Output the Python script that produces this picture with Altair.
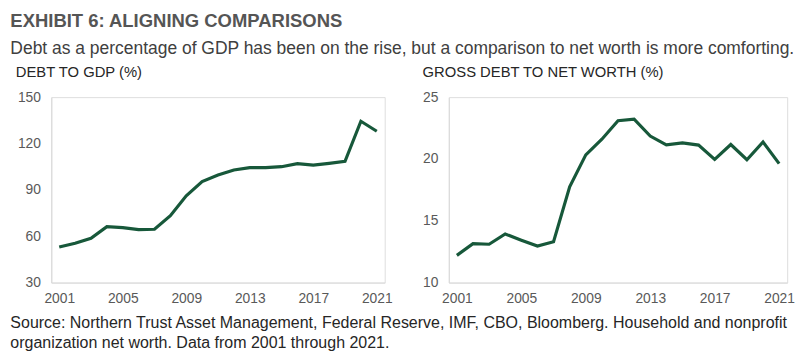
import altair as alt
import pandas as pd

years = list(range(2001, 2022))
debt_to_gdp = [53.0, 55.5, 58.7, 66.2, 65.6, 64.3, 64.5, 73.3, 86.1, 95.4, 99.6,
               102.9, 104.4, 104.4, 105.0, 107.0, 106.0, 107.1, 108.4, 134.4, 127.9]
debt_to_networth = [12.2, 13.15, 13.1, 13.93, 13.43, 12.96, 13.3, 17.74, 20.33, 21.6, 23.09,
                    23.22, 21.85, 21.14, 21.3, 21.12, 19.96, 21.17, 19.94, 21.38, 19.62]
x_ticks = [2001, 2005, 2009, 2013, 2017, 2021]
left_y_ticks = [30, 60, 90, 120, 150]
right_y_ticks = [10, 15, 20, 25]

title_text = "EXHIBIT 6: ALIGNING COMPARISONS"
subtitle_text = "Debt as a percentage of GDP has been on the rise, but a comparison to net worth is more comforting."
left_title = "DEBT TO GDP (%)"
right_title = "GROSS DEBT TO NET WORTH (%)"
footer_lines = [
    "Source: Northern Trust Asset Management, Federal Reserve, IMF, CBO, Bloomberg. Household and nonprofit",
    "organization net worth. Data from 2001 through 2021.",
]

df_left = pd.DataFrame({"year": years, "value": debt_to_gdp})
df_right = pd.DataFrame({"year": years, "value": debt_to_networth})

FONT = "Liberation Sans"
LINE_COLOR = "#17583a"
AXIS_COLOR = "#d9d9d9"
LABEL_COLOR = "#595959"


def panel(df, ttl, ydom, yticks, w, h, min_extent, title_dx):
    xax = alt.Axis(values=x_ticks, format="d", ticks=False, grid=False, domainColor=AXIS_COLOR,
                   labelColor=LABEL_COLOR, labelFontSize=14, labelFont=FONT, labelPadding=9,
                   title=None)
    yax = alt.Axis(values=yticks, ticks=False, grid=False, domainColor=AXIS_COLOR,
                   labelColor=LABEL_COLOR, labelFontSize=14, labelFont=FONT, labelPadding=11,
                   title=None, minExtent=min_extent)
    return alt.Chart(df).mark_line(color=LINE_COLOR, strokeWidth=3.2, strokeJoin="miter").encode(
        x=alt.X("year:Q", scale=alt.Scale(domain=[2000.5, 2021.5], nice=False, zero=False), axis=xax),
        y=alt.Y("value:Q", scale=alt.Scale(domain=ydom, nice=False, zero=False), axis=yax),
    ).properties(
        width=w, height=h,
        title=alt.TitleParams(ttl, anchor="start", frame="bounds", font=FONT, fontSize=15,
                              fontWeight="normal", color="#262626", offset=10, dx=title_dx),
    )


left = panel(df_left, left_title, [30, 150], left_y_ticks, 338, 188, 41, 5)
right = panel(df_right, right_title, [10, 25], right_y_ticks, 343, 188, 26, 0)

inner = alt.hconcat(left, right, spacing=28).properties(
    title=alt.TitleParams(footer_lines, orient="bottom", anchor="start", frame="bounds",
                          font=FONT, fontSize=16.2, fontWeight="normal", color="#262626",
                          lineHeight=19.5, offset=10)
)

chart = alt.vconcat(inner).properties(
    title=alt.TitleParams(title_text, subtitle=subtitle_text, anchor="start", frame="bounds",
                          font=FONT, fontSize=18.7, fontWeight="bold", color="#555555",
                          subtitleFont=FONT, subtitleFontSize=17.7, subtitleColor="#404040",
                          subtitlePadding=9, offset=8),
    padding={"left": 10, "top": 10, "right": 5, "bottom": 5},
).configure_view(stroke=None).configure(background="white")

chart.save("out.html", embed_options={"renderer": "svg", "actions": False})
